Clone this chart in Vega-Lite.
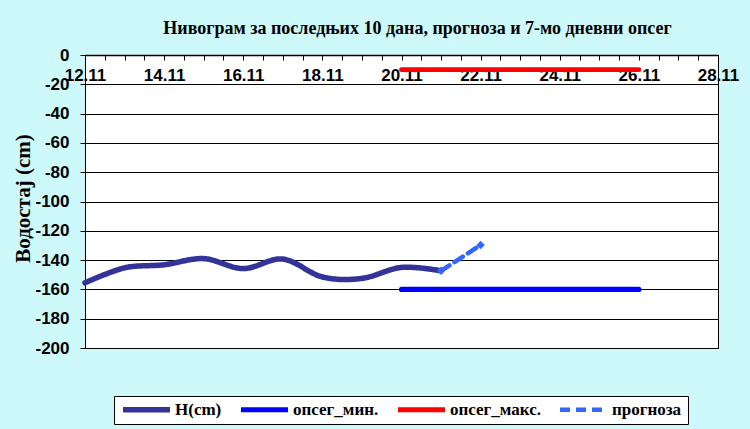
{
  "$schema": "https://vega.github.io/schema/vega-lite/v6.json",
  "width": 633,
  "height": 293,
  "autosize": "none",
  "padding": {"left": 85, "top": 55, "right": 32, "bottom": 81},
  "background": "#cdf9fa",
  "config": {
    "view": {"fill": "white", "stroke": "black", "strokeWidth": 1},
    "axis": {"labelFont": "Liberation Sans", "labelFontWeight": "bold", "labelFontSize": 17, "labelColor": "black", "domainColor": "black", "tickColor": "black"},
    "legend": {
      "orient": "none",
      "legendX": 29,
      "legendY": 341,
      "direction": "horizontal",
      "columns": 4,
      "fillColor": "white",
      "strokeColor": "black",
      "padding": 6,
      "symbolType": "stroke",
      "symbolSize": 2209,
      "clipHeight": 15,
      "labelFont": "Liberation Serif",
      "labelFontSize": 17,
      "labelFontWeight": "bold",
      "labelColor": "black",
      "labelOffset": 2,
      "columnPadding": 16,
      "labelLimit": 200
    }
  },
  "title": {
    "text": "Нивограм за последњих 10 дана, прогноза и 7-мо дневни опсег",
    "font": "Liberation Serif",
    "fontSize": 18,
    "fontWeight": "bold",
    "color": "black",
    "anchor": "middle",
    "dx": 16,
    "offset": 8
  },
  "data": {
    "values": [
      {"series": "H(cm)", "day": 12, "level": -155.5},
      {"series": "H(cm)", "day": 13, "level": -145.3},
      {"series": "H(cm)", "day": 14, "level": -143.2},
      {"series": "H(cm)", "day": 15, "level": -139},
      {"series": "H(cm)", "day": 16, "level": -145.8},
      {"series": "H(cm)", "day": 17, "level": -139.3},
      {"series": "H(cm)", "day": 18, "level": -151.5},
      {"series": "H(cm)", "day": 19, "level": -152.5},
      {"series": "H(cm)", "day": 20, "level": -145},
      {"series": "H(cm)", "day": 21, "level": -147.3},
      {"series": "опсег_мин.", "day": 20, "level": -160},
      {"series": "опсег_мин.", "day": 26, "level": -160},
      {"series": "опсег_макс.", "day": 20, "level": -10},
      {"series": "опсег_макс.", "day": 26, "level": -10},
      {"series": "прогноза", "day": 21, "level": -147.3},
      {"series": "прогноза", "day": 22, "level": -129.7}
    ]
  },
  "encoding": {
    "x": {
      "field": "day",
      "type": "quantitative",
      "scale": {"domain": [12, 28], "nice": false, "zero": false},
      "axis": {
        "title": null,
        "orient": "bottom",
        "offset": -293,
        "grid": false,
        "values": [12,12.5,13,13.5,14,14.5,15,15.5,16,16.5,17,17.5,18,18.5,19,19.5,20,20.5,21,21.5,22,22.5,23,23.5,24,24.5,25,25.5,26,26.5,27,27.5,28],
        "labelExpr": "datum.value % 2 == 0 ? datum.value + '.11' : ''",
        "tickSize": 5,
        "labelPadding": 7,
        "labelOverlap": false,
        "labelFlush": false,
        "labelBound": false,
        "domainWidth": 1.5
      }
    },
    "y": {
      "field": "level",
      "type": "quantitative",
      "scale": {"domain": [-200, 0], "nice": false, "zero": false},
      "axis": {
        "title": "Водостај (cm)",
        "titleFont": "Liberation Serif",
        "titleFontSize": 21,
        "titleFontWeight": "bold",
        "titleColor": "black",
        "titleX": -62,
        "titleY": 143,
        "titleAngle": -90,
        "titleBaseline": "middle",
        "titleAnchor": "middle",
        "values": [0,-20,-40,-60,-80,-100,-120,-140,-160,-180,-200],
        "labelExpr": "'' + datum.value",
        "grid": true,
        "gridColor": "black",
        "gridWidth": 1,
        "gridOpacity": 1,
        "tickSize": 5,
        "labelPadding": 11,
        "labelOverlap": false,
        "labelFlush": false
      }
    }
  },
  "layer": [
    {
      "mark": {"type": "line", "interpolate": "cardinal", "strokeCap": "round"},
      "encoding": {
        "color": {
          "field": "series",
          "type": "nominal",
          "scale": {"domain": ["H(cm)", "опсег_мин.", "опсег_макс.", "прогноза"], "range": ["#333399", "#0000ff", "#ff0000", "#3366ff"]},
          "legend": {"title": null}
        },
        "strokeDash": {
          "field": "series",
          "type": "nominal",
          "scale": {"domain": ["H(cm)", "опсег_мин.", "опсег_макс.", "прогноза"], "range": [[1, 0], [1, 0], [1, 0], [10, 6]]},
          "legend": {"title": null}
        },
        "strokeWidth": {
          "field": "series",
          "type": "nominal",
          "scale": {"domain": ["H(cm)", "опсег_мин.", "опсег_макс.", "прогноза"], "range": [5.5, 4.5, 4.5, 2.5]},
          "legend": {"title": null}
        }
      }
    },
    {
      "transform": [{"filter": "datum.series == 'прогноза'"}],
      "mark": {"type": "point", "shape": "diamond", "filled": true, "size": 70, "color": "#3366ff", "opacity": 1}
    }
  ]
}
